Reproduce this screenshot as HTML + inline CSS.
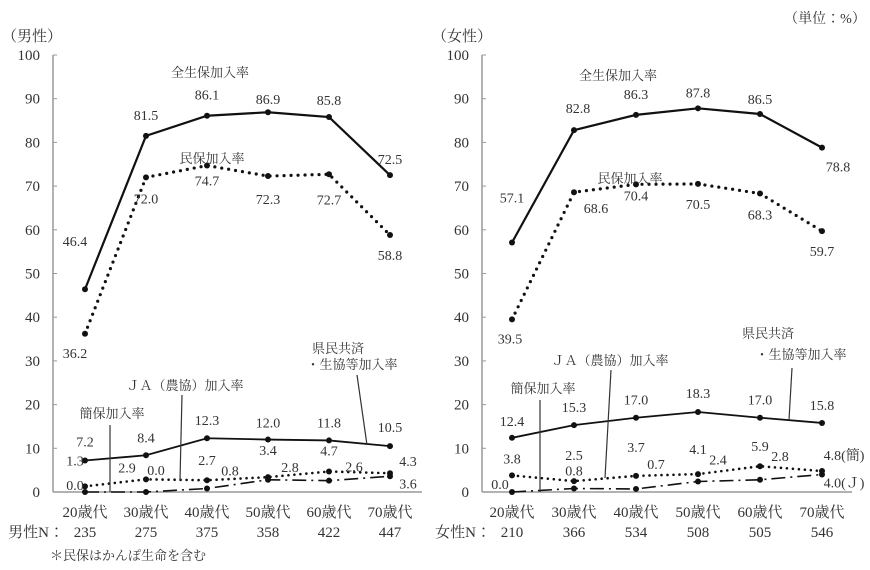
<!DOCTYPE html>
<html><head><meta charset="utf-8">
<style>
body{margin:0;background:#fff;}
svg{display:block;font-family:"Liberation Serif","Noto Serif CJK JP",serif;}
text{fill:#333;}
</style></head>
<body>
<svg id="chart" width="870" height="570" viewBox="0 0 870 570" xmlns="http://www.w3.org/2000/svg">
<text x="825" y="23" font-size="14" text-anchor="middle">（単位：%）</text>
<text x="32" y="41" font-size="15" text-anchor="middle">（男性）</text>
<text x="462" y="41" font-size="15" text-anchor="middle">（女性）</text>
<text x="50" y="560" font-size="13">＊民保はかんぽ生命を含む</text>
</svg>
<script>
const categories = ["20歳代","30歳代","40歳代","50歳代","60歳代","70歳代"];
const yTicks = [0,10,20,30,40,50,60,70,80,90,100];
const maleN = [235,275,375,358,422,447];
const femaleN = [210,366,534,508,505,546];
const maleZensei = [46.4,81.5,86.1,86.9,85.8,72.5];
const maleMinpo = [36.2,72.0,74.7,72.3,72.7,58.8];
const maleKenmin = [7.2,8.4,12.3,12.0,11.8,10.5];
const maleKanpo = [1.3,2.9,2.7,3.4,4.7,4.3];
const maleJA = [0.0,0.0,0.8,2.8,2.6,3.6];
const femaleZensei = [57.1,82.8,86.3,87.8,86.5,78.8];
const femaleMinpo = [39.5,68.6,70.4,70.5,68.3,59.7];
const femaleKenmin = [12.4,15.3,17.0,18.3,17.0,15.8];
const femaleKanpo = [3.8,2.5,3.7,4.1,5.9,4.8];
const femaleJA = [0.0,0.8,0.7,2.4,2.8,4.0];

const NS="http://www.w3.org/2000/svg";
const svg=document.getElementById('chart');
function mk(tag,attrs,parent){const e=document.createElementNS(NS,tag);for(const k in attrs)e.setAttribute(k,attrs[k]);(parent||svg).appendChild(e);return e;}

function panel(cfg){
  const g=mk('g',{});
  
  
  const y0=492,y100=55;
  const yS=v=>y0-(y0-y100)*v/100;
  const xS=i=>cfg.x0+cfg.step*i;
  const ya=mk('line',{x1:cfg.ax,y1:y100,x2:cfg.ax,y2:y0,stroke:'#999','stroke-width':1.5},g);
  
  
  const xa=mk('line',{x1:cfg.ax,y1:y0,x2:cfg.axEnd,y2:y0,stroke:'#999','stroke-width':1.5},g);
  
  
  yTicks.forEach(t=>{
    const tk=mk('line',{x1:cfg.ax,y1:yS(t),x2:cfg.ax+4,y2:yS(t),stroke:'#999'},g);
    
    
    const tl=mk('text',{x:cfg.ax-13,y:yS(t)+5,'font-size':15,'text-anchor':'end'},g);
    tl.textContent=t;
    
    
  });
  categories.forEach((c,i)=>{
    const t=mk('text',{x:xS(i),y:517,'font-size':15,'text-anchor':'middle'},g);
    t.textContent=c;
    
    
    const n=mk('text',{x:xS(i),y:537,'font-size':15,'text-anchor':'middle'},g);
    n.textContent=cfg.N[i];
    
    
  });
  const nl=mk('text',{x:xS(0)-21,y:537,'font-size':15,'text-anchor':'end'},g);
  nl.textContent=cfg.nLabel;
  
  
  cfg.series.forEach(s=>{
    const pts=s.data.map((v,i)=>xS(i)+','+yS(v)).join(' ');
    const attrs={points:pts,fill:'none',stroke:'#111','stroke-width':s.w||2.2};
    if(s.dash){attrs['stroke-dasharray']=s.dash;attrs['stroke-linecap']=s.cap||'butt';}
    const pl=mk('polyline',attrs,g);
    
    
    s.data.forEach((v,i)=>{
      const c=mk('circle',{cx:xS(i),cy:yS(v),r:3,fill:'#111'},g);
      
      
      const lt=mk('text',{x:xS(i)+s.dx[i],y:yS(v)+s.dy[i]+5,'font-size':14,'text-anchor':'middle'},g);
      lt.textContent=v.toFixed(1)+((s.suffix&&i===5)?s.suffix:'');
      
      
    });
  });
  cfg.notes.forEach(n=>{
    const t=mk('text',{x:n.x,y:n.y,'font-size':13,'text-anchor':'middle'},g);
    t.textContent=n.t;
    
    
  });
  cfg.leaders.forEach(l=>{
    const ln=mk('line',{x1:l[0],y1:l[1],x2:l[2],y2:l[3],stroke:'#333','stroke-width':1.2},g);
    
    
  });
}

panel({name:'male-panel',ax:53,axEnd:422,x0:85,step:61,N:maleN,nLabel:'男性N：',
 series:[
  {name:'male-zensei',data:maleZensei,dx:[-10,0,0,0,0,0],dy:[-48,-21,-21,-13,-17,-16]},
  {name:'male-minpo',data:maleMinpo,dash:'0 7',cap:'round',w:3.2,dx:[-10,0,0,0,0,0],dy:[19,21,15,23,25,20]},
  {name:'male-kenmin',data:maleKenmin,w:1.8,dx:[0,0,0,0,0,0],dy:[-19,-18,-18,-17,-18,-19]},
  {name:'male-kanpo',data:maleKanpo,dash:'0 6',cap:'round',w:2.6,dx:[-10,-19,0,0,0,18],dy:[-26,-12,-20,-27,-21,-12]},
  {name:'male-ja',data:maleJA,dash:'14 5 2 5',w:1.6,dx:[-10,10,23,22,25,18],dy:[-7,-22,-18,-13,-14,7]}
 ],
 notes:[{x:210,y:77,t:'全生保加入率'},{x:212,y:163,t:'民保加入率'},{x:112,y:418,t:'簡保加入率'},
  {x:185,y:390,t:'ＪＡ（農協）加入率'},{x:338,y:353,t:'県民共済'},{x:352,y:369,t:'・生協等加入率'}],
 leaders:[[110,425,110,492],[182,395,180,480],[357,375,367,445]]
});
panel({name:'female-panel',ax:482,axEnd:852,x0:512,step:62,N:femaleN,nLabel:'女性N：',
 series:[
  {name:'female-zensei',data:femaleZensei,dx:[0,4,0,0,0,16],dy:[-45,-22,-21,-16,-15,19]},
  {name:'female-minpo',data:femaleMinpo,dash:'0 7',cap:'round',w:3.2,dx:[-2,22,0,0,0,0],dy:[19,16,11,20,21,20]},
  {name:'female-kenmin',data:femaleKenmin,w:1.8,dx:[0,0,0,0,0,0],dy:[-17,-18,-18,-19,-18,-18]},
  {name:'female-kanpo',data:femaleKanpo,dash:'0 6',cap:'round',w:2.6,suffix:'(簡)',dx:[0,0,0,0,0,22],dy:[-17,-26,-29,-25,-20,-16]},
  {name:'female-ja',data:femaleJA,dash:'14 5 2 5',w:1.6,suffix:'(Ｊ)',dx:[-12,0,20,20,20,22],dy:[-8,-18,-25,-22,-24,8]}
 ],
 notes:[{x:618,y:80,t:'全生保加入率'},{x:630,y:183,t:'民保加入率'},{x:543,y:393,t:'簡保加入率'},
  {x:610,y:365,t:'ＪＡ（農協）加入率'},{x:768,y:338,t:'県民共済'},{x:801,y:359,t:'・生協等加入率'}],
 leaders:[[540,400,540,492],[611,370,605,478],[792,368,789,420]]
});
</script>
</body></html>
